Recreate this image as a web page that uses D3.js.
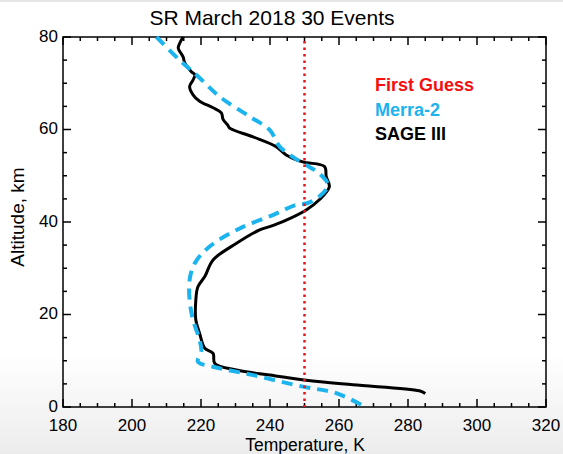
<!DOCTYPE html>
<html><head><meta charset="utf-8">
<script src="https://cdn.jsdelivr.net/npm/d3@7"></script>
<style>
html,body{margin:0;padding:0;background:#fff;}
svg{display:block;font-family:"Liberation Sans",Arial,sans-serif;}
</style></head><body>
<svg id="c" width="563" height="454"></svg>
<script>
const title = "SR March 2018 30 Events";
const xTicks = [180,200,220,240,260,280,300,320];
const yTicks = [0,20,40,60,80];
const firstGuessT = 250;
// SAGE III: [temperature K, altitude km]
const sageT =   [214.8,213.8,213.4,214.8,215.3,217.2,218.2,217.7,216.7,217.7,219.6,223.5,225.9,226.4,227.8,228.3,235.1,241.8,244.7,249.5,255.8,256.3,257.2,254.3,250.5,244.7,239.9,237.0,230.3,223.5,221.1,219.1,218.5,218.5,219.6,221.1,223.5,224.0,230.3,239.9,250.5,264.0,283.3,285.0];
const sageAlt = [80.0, 78.6, 77.6, 75.7, 74.4, 72.5, 71.8, 70.7, 69.3, 67.5, 66.1, 64.7, 63.6, 62.2, 60.9, 60.3, 58.4, 56.3, 54.5, 53.0, 52.0, 49.8, 47.6, 44.8, 42.6, 40.4, 39.0, 38.3, 35.4, 31.8, 28.2, 26.0, 23.1, 18.8, 15.9, 12.7, 11.6, 9.4, 8.0, 6.9, 5.8, 4.8, 3.5, 2.9];
// Merra-2
const merraT =   [207.1,213.8,218.7,225.4,234.1,239.9,242.8,246.6,250.5,254.3,256.8,254.3,250.5,247.6,240.8,231.2,222.5,218.2,216.7,216.7,217.7,219.6,220.1,219.1,223.5,235.1,249.5,259.2,266.4];
const merraAlt = [80.0, 75.0, 71.8, 67.1, 62.8, 59.9, 56.3, 54.1, 52.3, 50.5, 48.0, 45.5, 44.0, 43.7, 41.5, 38.6, 34.7, 31.1, 27.5, 23.1, 18.8, 14.5, 12.0, 9.8, 8.7, 6.9, 4.4, 3.0, 0.5];

const svg = d3.select("#c");
const defs = svg.append("defs");
const g0 = defs.append("linearGradient").attr("id","bg").attr("x1",0).attr("y1",0).attr("x2",0).attr("y2",1);
g0.append("stop").attr("offset","0.78").attr("stop-color","#ffffff");
g0.append("stop").attr("offset","1").attr("stop-color","#ececec");
svg.append("rect").attr("width",563).attr("height",454).attr("fill","url(#bg)");
svg.append("rect").attr("width",563).attr("height",2).attr("fill","#e6e6e6");

const L=63, R=546, T=37, B=407;
const x = d3.scaleLinear().domain([180,320]).range([L,R]);
const y = d3.scaleLinear().domain([0,80]).range([B,T]);

svg.append("rect").attr("x",L).attr("y",T).attr("width",R-L).attr("height",B-T)
  .attr("fill","none").attr("stroke","#000").attr("stroke-width",1.5);

const xMinor = d3.range(180,321,5), yMinor = d3.range(0,81,5);
function tickLen(v){return v%20===0?8:4;}
const tk = svg.append("g").attr("stroke","#000").attr("stroke-width",1.5);
xMinor.forEach(v=>{
  const l=tickLen(v);
  tk.append("line").attr("x1",x(v)).attr("x2",x(v)).attr("y1",B).attr("y2",B-l);
  tk.append("line").attr("x1",x(v)).attr("x2",x(v)).attr("y1",T).attr("y2",T+l);
});
yMinor.forEach(v=>{
  const l=tickLen(v);
  tk.append("line").attr("y1",y(v)).attr("y2",y(v)).attr("x1",L).attr("x2",L+l);
  tk.append("line").attr("y1",y(v)).attr("y2",y(v)).attr("x1",R).attr("x2",R-l);
});
svg.append("g").selectAll("text").data(xTicks).join("text")
  .attr("x",d=>x(d)).attr("y",B+24).attr("text-anchor","middle")
  .attr("font-size",17).text(d=>d);
svg.append("g").selectAll("text").data(yTicks).join("text")
  .attr("x",L-5).attr("y",d=>y(d)+4.5).attr("text-anchor","end")
  .attr("font-size",17).text(d=>d);

svg.append("text").attr("x",272).attr("y",25).attr("text-anchor","middle")
  .attr("font-size",21).text(title);
svg.append("text").attr("x",305).attr("y",451).attr("text-anchor","middle")
  .attr("font-size",17.5).text("Temperature, K");
svg.append("text").attr("transform",`translate(24,${(T+B)/2-5}) rotate(-90)`)
  .attr("text-anchor","middle").attr("font-size",19).text("Altitude, km");

const line = d3.line().x(d=>x(d[0])).y(d=>y(d[1])).curve(d3.curveCatmullRom.alpha(0.5));
const sage = sageT.map((t,i)=>[t,sageAlt[i]]);
const merra = merraT.map((t,i)=>[t,merraAlt[i]]);

svg.append("path").datum(sage).attr("d",line).attr("fill","none")
  .attr("stroke","#000").attr("stroke-width",3).attr("stroke-linejoin","round");
svg.append("path").datum(merra).attr("d",line).attr("fill","none")
  .attr("stroke","#1cb4ee").attr("stroke-width",4).attr("stroke-dasharray","11,7");
svg.append("line").attr("x1",x(firstGuessT)).attr("x2",x(firstGuessT)).attr("y1",y(80)+4).attr("y2",B)
  .attr("stroke","#e8141c").attr("stroke-width",2.5).attr("stroke-dasharray","2.5,4");

const leg = [["First Guess","#f50f0f"],["Merra-2","#1cb4ee"],["SAGE III","#000"]];
svg.append("g").selectAll("text").data(leg).join("text")
  .attr("x",375).attr("y",(d,i)=>91+i*24.5).attr("font-size",18).attr("font-weight","bold")
  .attr("fill",d=>d[1]).text(d=>d[0]);
</script></body></html>
